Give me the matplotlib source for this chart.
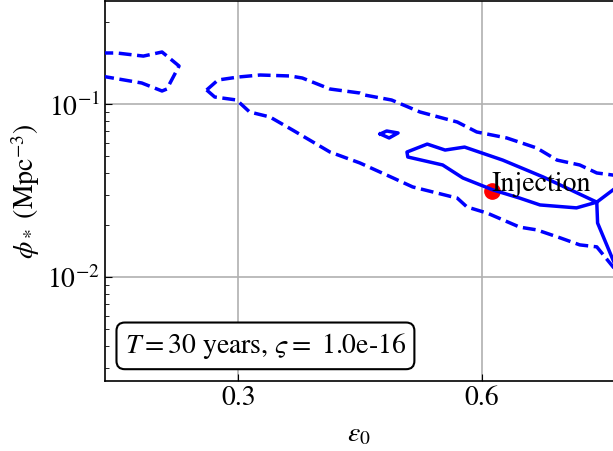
import numpy as np
from matplotlib import pyplot as plt

plt.rcParams["font.family"] = "serif"
plt.rcParams["font.serif"] = ["STIXGeneral", "Liberation Serif", "DejaVu Serif"]
plt.rcParams["mathtext.fontset"] = "stix"
plt.rcParams["font.size"] = 20

# Outer (dashed) contour, piece near the left edge
outerA_x = [0.130, 0.150, 0.183, 0.206, 0.227, 0.212, 0.206, 0.181, 0.138, 0.130]
outerA_y = [0.198, 0.198, 0.190, 0.2006, 0.1665, 0.1226, 0.1194, 0.1328, 0.1438, 0.1458]

# Outer (dashed) contour, main band: upper branch then lower branch
outerB_up_x = [0.261, 0.275, 0.300, 0.327, 0.364, 0.379, 0.413, 0.450, 0.456,
	0.489, 0.524, 0.570, 0.594, 0.631, 0.668, 0.693, 0.721, 0.742, 0.762, 0.777]
outerB_up_y = [0.1210, 0.1382, 0.1438, 0.1477, 0.1458, 0.1419, 0.1226, 0.1162, 0.1131,
	0.1059, 0.0903, 0.0790, 0.0692, 0.0639, 0.0559, 0.0476, 0.0446, 0.0401, 0.0390, 0.0387]
outerB_lo_x = [0.261, 0.271, 0.298, 0.314, 0.339, 0.367, 0.413, 0.450, 0.491, 0.515,
	0.570, 0.582, 0.607, 0.647, 0.668, 0.697, 0.721, 0.742, 0.762, 0.777]
outerB_lo_y = [0.1210, 0.1102, 0.1059, 0.0903, 0.0845, 0.0710, 0.0530, 0.0458, 0.0375, 0.0333,
	0.0287, 0.0255, 0.0235, 0.0195, 0.0188, 0.0169, 0.0154, 0.0150, 0.0115, 0.0095]

# Inner (solid) contour
island_x = [0.475, 0.483, 0.497, 0.486, 0.475]
island_y = [0.0674, 0.0701, 0.0683, 0.0639, 0.0674]
inner_x = [0.762, 0.742, 0.676, 0.626, 0.579, 0.555, 0.533, 0.508, 0.509, 0.552,
	0.577, 0.614, 0.647, 0.672, 0.717, 0.742, 0.743, 0.762, 0.771]
inner_y = [0.0320, 0.0272, 0.0380, 0.0476, 0.0566, 0.0544, 0.0589, 0.0530, 0.0496, 0.0446,
	0.0375, 0.0320, 0.0287, 0.0262, 0.0252, 0.0272, 0.0206, 0.0126, 0.0103]

# Injected value
injX = 0.6127
injY = 0.0316

xTicks = [0.3, 0.6]

fig = plt.figure(figsize=(6.13, 4.51), dpi=100)
ax = fig.add_axes([105/613., 70/451., 508/613., 380/451.])

ax.plot(injX, injY, "o", color="red", markersize=11, zorder=2)
ax.text(injX, injY, "Injection", zorder=4)

ls = dict(color="blue", linewidth=2.5, zorder=3)
ax.plot(outerA_x, outerA_y, "--", **ls)
ax.plot(outerB_up_x, outerB_up_y, "--", **ls)
ax.plot(outerB_lo_x, outerB_lo_y, "--", **ls)
ax.plot(island_x, island_y, "-", **ls)
ax.plot(inner_x, inner_y, "-", **ls)

ax.set_yscale("log")
ax.set_xlim(0.1357, 0.762)
ax.set_ylim(0.002516, 0.3955)
ax.set_xticks(xTicks)
ax.set_xticklabels(["%.1f" % t for t in xTicks])
ax.grid(True, which="major", color="#b0b0b0", linewidth=1.2)
ax.tick_params(which="both", direction="in")
ax.tick_params(which="major", length=5)
ax.tick_params(which="minor", length=3)
ax.spines["right"].set_visible(False)
for s in ["left", "bottom", "top"]:
	ax.spines[s].set_linewidth(1.2)

ax.set_xlabel(r"$\varepsilon_0$", labelpad=8)
ax.set_ylabel(r"$\phi_*$ (Mpc$^{-3}$)")

ax.text(0.039, 0.053, r"$T=30$ years, $\varsigma=$ 1.0e-16", transform=ax.transAxes,
	ha="left", va="bottom",
	bbox=dict(boxstyle="round,pad=0.3", facecolor="white", edgecolor="black", linewidth=1.5))

plt.savefig("out.png", dpi=100)
